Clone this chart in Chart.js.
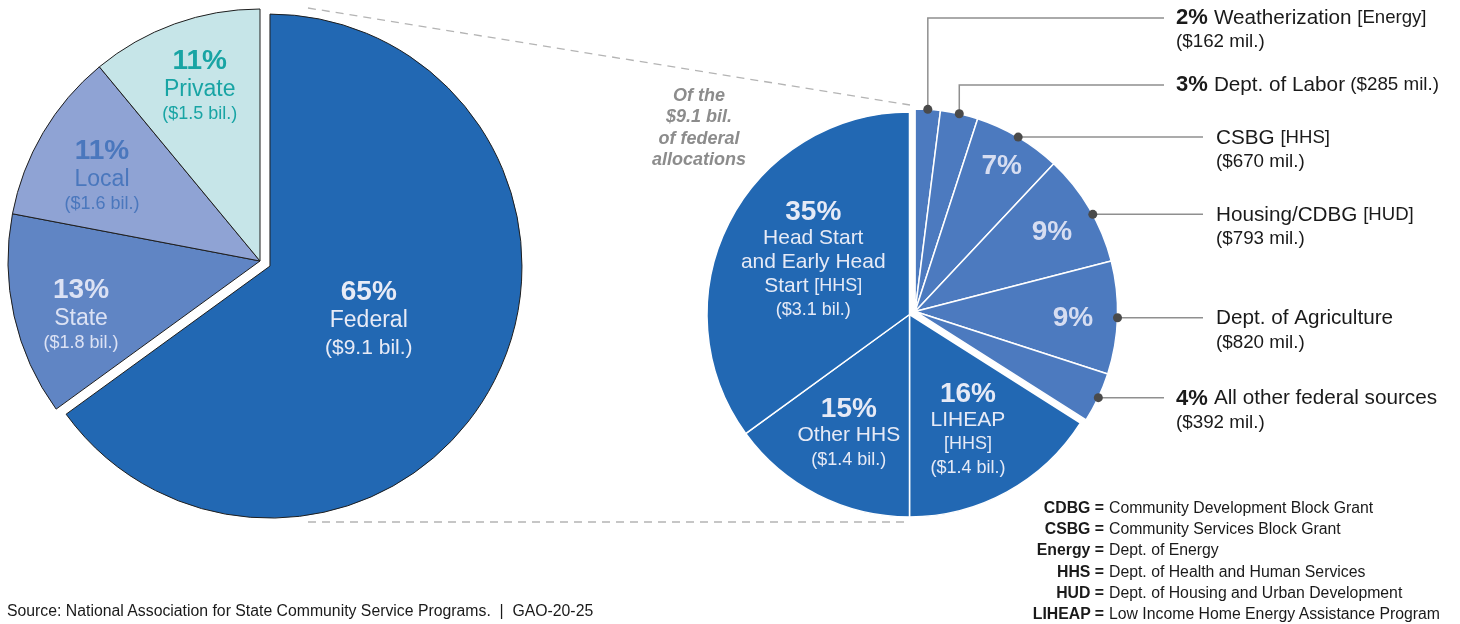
<!DOCTYPE html>
<html>
<head>
<meta charset="utf-8">
<script src="https://cdn.jsdelivr.net/npm/chart.js@4.4.1/dist/chart.umd.min.js"></script>
<style>
  html, body { margin: 0; padding: 0; background: #fff; }
  #wrap { position: relative; width: 1460px; height: 624px; overflow: hidden; font-family: 'Liberation Sans', Arial, sans-serif; color: #1a1a1a; }
  #wrap canvas { position: absolute; left: 0; top: 0; }
  .note { position: absolute; left: 599px; top: 85px; width: 200px; text-align: center; font-size: 18px; font-weight: bold; font-style: italic; line-height: 21.3px; color: #8c8c8c; }
  .abbr-terms { position: absolute; left: 904px; top: 497px; width: 200px; text-align: right; font-size: 15.8px; font-weight: bold; line-height: 21.2px; }
  .abbr-defs { position: absolute; left: 1109px; top: 497px; font-size: 15.8px; line-height: 21.2px; white-space: nowrap; }
  .source { position: absolute; left: 7px; top: 602px; font-size: 15.8px; white-space: pre; }
</style>
</head>
<body>
<div id="wrap">
  <canvas id="sources-chart" width="1460" height="624"></canvas>
  <canvas id="federal-chart" width="1460" height="624"></canvas>
  <div class="note">Of the<br>$9.1 bil.<br>of federal<br>allocations</div>
  <div class="abbr-terms" id="abbr-terms"></div>
  <div class="abbr-defs" id="abbr-defs"></div>
  <div class="source">Source: National Association for State Community Service Programs.  |  GAO-20-25</div>
</div>
<script>
// where the money comes from (left pie)
const sourceNames = ['Federal', 'State', 'Local', 'Private'];
const sourceShares = [65, 13, 11, 11];
const sourceAmounts = ['($9.1 bil.)', '($1.8 bil.)', '($1.6 bil.)', '($1.5 bil.)'];

// the federal part split up (right pie), clockwise from 12 o'clock
const fedNames = [
	'Weatherization [Energy]',
	'Dept. of Labor',
	'CSBG [HHS]',
	'Housing/CDBG [HUD]',
	'Dept. of Agriculture',
	'All other federal sources',
	'LIHEAP\n[HHS]',
	'Other HHS',
	'Head Start\nand Early Head\nStart [HHS]',
];
const fedShares = [2, 3, 7, 9, 9, 4, 16, 15, 35];
const fedAmounts = ['($162 mil.)', '($285 mil.)', '($670 mil.)', '($793 mil.)', '($820 mil.)', '($392 mil.)', '($1.4 bil.)', '($1.4 bil.)', '($3.1 bil.)'];

const abbrTerms = ['CDBG', 'CSBG', 'Energy', 'HHS', 'HUD', 'LIHEAP'];
const abbrMeanings = [
	'Community Development Block Grant',
	'Community Services Block Grant',
	'Dept. of Energy',
	'Dept. of Health and Human Services',
	'Dept. of Housing and Urban Development',
	'Low Income Home Energy Assistance Program',
];

// colours
const sourceColors = ['#2268b3', '#6085c4', '#8fa3d4', '#c6e5e8'];
const sourceTextColors = ['#e8ebf6', '#dce2f4', '#4a77bd', '#18a4a4'];
const fedDark = '#2268b3';
const fedLight = '#4c7abf';

const font = (size, weight = 'normal') => `${weight} ${size}px "Liberation Sans", Arial, sans-serif`;

// split "CSBG [HHS]" so the bracket part is drawn a bit smaller
const splitBrackets = (line, size, small) =>
	line.split(/(\[[^\]]*\])/).filter((s) => s).map((s) => [s, font(s.startsWith('[') ? small : size)]);

const drawSegments = (ctx, segs, x, y, align, color) => {
	ctx.save();
	ctx.fillStyle = color;
	ctx.textBaseline = 'middle';
	ctx.textAlign = 'left';
	let total = 0;
	segs.forEach(([text, f]) => {
		ctx.font = f;
		total += ctx.measureText(text).width;
	});
	let cx = align === 'center' ? x - total / 2 : x;
	segs.forEach(([text, f]) => {
		ctx.font = f;
		ctx.fillText(text, cx, y);
		cx += ctx.measureText(text).width;
	});
	ctx.restore();
};

// move a group of slices out along the group's middle angle
const makeExplode = (group, distance) => ({
	id: 'explode',
	afterDatasetsUpdate(chart) {
		const arcs = chart.getDatasetMeta(0).data;
		const els = group.map((i) => arcs[i]);
		const mid = (els[0].startAngle + els[els.length - 1].endAngle) / 2;
		els.forEach((arc) => {
			arc.x += Math.cos(mid) * distance;
			arc.y += Math.sin(mid) * distance;
		});
	},
});

// text inside slices
const makeSliceText = (items) => ({
	id: 'sliceText',
	afterDatasetsDraw(chart) {
		const ctx = chart.ctx;
		const arcs = chart.getDatasetMeta(0).data;
		items.forEach((item) => {
			const arc = arcs[item.index];
			const mid = (arc.startAngle + arc.endAngle) / 2;
			const r = arc.outerRadius * item.frac;
			const x = arc.x + Math.cos(mid) * r + (item.dx || 0);
			const y = arc.y + Math.sin(mid) * r + (item.dy || 0);
			const ys = [0];
			for (let i = 1; i < item.lines.length; i++) ys.push(ys[i - 1] + item.lines[i].gap);
			const shift = ys[ys.length - 1] / 2;
			item.lines.forEach((line, i) => {
				drawSegments(ctx, line.segs, x, y + ys[i] - shift, 'center', item.color);
			});
		});
	},
});

// leader lines with dots for the small federal slices
const makeCallouts = (items) => ({
	id: 'callouts',
	afterDatasetsDraw(chart) {
		const ctx = chart.ctx;
		const arcs = chart.getDatasetMeta(0).data;
		items.forEach((c) => {
			const arc = arcs[c.index];
			const a = arc.startAngle + (arc.endAngle - arc.startAngle) * (c.at || 0.5);
			const px = arc.x + Math.cos(a) * arc.outerRadius;
			const py = arc.y + Math.sin(a) * arc.outerRadius;
			const rowY = c.rowY !== undefined ? c.rowY : py;
			ctx.save();
			ctx.strokeStyle = '#8f8f8f';
			ctx.lineWidth = 1.5;
			ctx.beginPath();
			ctx.moveTo(px, py);
			if (c.rowY !== undefined) ctx.lineTo(px, rowY);
			ctx.lineTo(c.lineEnd, rowY);
			ctx.stroke();
			ctx.fillStyle = '#4a4a4a';
			ctx.beginPath();
			ctx.arc(px, py, 4.5, 0, Math.PI * 2);
			ctx.fill();
			ctx.restore();

			const line1 = [];
			if (c.pct) line1.push([`${fedShares[c.index]}% `, font(22, 'bold')]);
			line1.push(...splitBrackets(fedNames[c.index], 20.7, 18.6));
			if (c.inlineAmount) line1.push([' ' + fedAmounts[c.index], font(18.8)]);
			const ty = rowY + (c.rowY !== undefined ? 0 : 1);
			drawSegments(ctx, line1, c.textX, ty, 'left', '#1a1a1a');
			if (!c.inlineAmount) drawSegments(ctx, [[fedAmounts[c.index], font(18.8)]], c.textX, ty + 24, 'left', '#1a1a1a');
		});
	},
});

// dashed lines linking the federal slice to the breakdown
const connectorLines = [[308, 8, 910, 105], [308, 522, 908, 522]];
const connectors = {
	id: 'connectors',
	beforeDatasetsDraw(chart) {
		const ctx = chart.ctx;
		ctx.save();
		ctx.strokeStyle = '#b4b4b4';
		ctx.lineWidth = 1.3;
		ctx.setLineDash([8, 6]);
		connectorLines.forEach(([x1, y1, x2, y2]) => {
			ctx.beginPath();
			ctx.moveTo(x1, y1);
			ctx.lineTo(x2, y2);
			ctx.stroke();
		});
		ctx.restore();
	},
};

// left pie labels
const sourcePlace = [
	{ frac: 0.44, dx: 0, dy: 4 },
	{ frac: 0.74, dx: 3, dy: 15 },
	{ frac: 0.71, dx: -4, dy: 8 },
	{ frac: 0.73, dx: 2, dy: 0 },
];
const sourceText = sourceNames.map((name, i) => ({
	index: i,
	...sourcePlace[i],
	color: sourceTextColors[i],
	lines: [
		{ segs: [[`${sourceShares[i]}%`, font(28, 'bold')]] },
		{ segs: [[name, font(23)]], gap: 28 },
		{ segs: [[sourceAmounts[i], font(i === 0 ? 21 : 18)]], gap: i === 0 ? 28 : 25 },
	],
}));

// right pie labels: big slices get full text, mid ones only the percent
const fedInside = [
	{ index: 2, frac: 0.84, dy: 1 },
	{ index: 3, frac: 0.785, dy: 2 },
	{ index: 4, frac: 0.78, dy: 2 },
].map((d) => ({ ...d, color: '#d6ddf1', lines: [{ segs: [[`${fedShares[d.index]}%`, font(28, 'bold')]] }] }));

[
	{ index: 6, frac: 0.64, dx: -4, dy: 3 },
	{ index: 7, frac: 0.66, dy: 1 },
	{ index: 8, frac: 0.55, dx: 3, dy: -3 },
].forEach((d) => {
	const lines = [{ segs: [[`${fedShares[d.index]}%`, font(28, 'bold')]] }];
	fedNames[d.index].split('\n').forEach((l, k) => {
		lines.push({ segs: splitBrackets(l, 21, 18), gap: k === 0 ? 26 : 24 });
	});
	lines.push({ segs: [[fedAmounts[d.index], font(18)]], gap: 24 });
	fedInside.push({ ...d, color: '#e6eaf6', lines: lines });
});

const fedCallouts = [
	{ index: 0, rowY: 18, lineEnd: 1164, textX: 1176, pct: true },
	{ index: 1, rowY: 85, lineEnd: 1164, textX: 1176, pct: true, inlineAmount: true },
	{ index: 2, lineEnd: 1203, textX: 1216 },
	{ index: 3, lineEnd: 1203, textX: 1216, at: 0.56 },
	{ index: 4, lineEnd: 1203, textX: 1216 },
	{ index: 5, lineEnd: 1164, textX: 1176, pct: true },
];

const baseOptions = {
	responsive: false,
	animation: false,
	events: [],
	plugins: { legend: { display: false }, tooltip: { enabled: false } },
};

new Chart(document.getElementById('sources-chart'), {
	type: 'pie',
	data: {
		labels: sourceNames,
		datasets: [{
			data: sourceShares,
			backgroundColor: sourceColors,
			borderColor: '#1e1e1e',
			borderWidth: 1,
			hoverOffset: 0,
		}],
	},
	options: {
		...baseOptions,
		radius: 252,
		layout: { padding: { left: 8, top: 9, right: 948, bottom: 111 } },
	},
	plugins: [makeExplode([0], 11.2), makeSliceText(sourceText)],
});

new Chart(document.getElementById('federal-chart'), {
	type: 'pie',
	data: {
		labels: fedNames,
		datasets: [{
			data: fedShares,
			backgroundColor: fedShares.map((v, i) => (i < 6 ? fedLight : fedDark)),
			borderColor: '#ffffff',
			borderWidth: 1.5,
			hoverOffset: 0,
		}],
	},
	options: {
		...baseOptions,
		radius: 202.5,
		layout: { padding: { left: 707, top: 112, right: 348, bottom: 107 } },
	},
	plugins: [connectors, makeExplode([0, 1, 2, 3, 4, 5], 6.4), makeSliceText(fedInside), makeCallouts(fedCallouts)],
});

document.getElementById('abbr-terms').innerHTML = abbrTerms.map((t) => `${t} =`).join('<br>');
document.getElementById('abbr-defs').innerHTML = abbrMeanings.join('<br>');
</script>
</body>
</html>
